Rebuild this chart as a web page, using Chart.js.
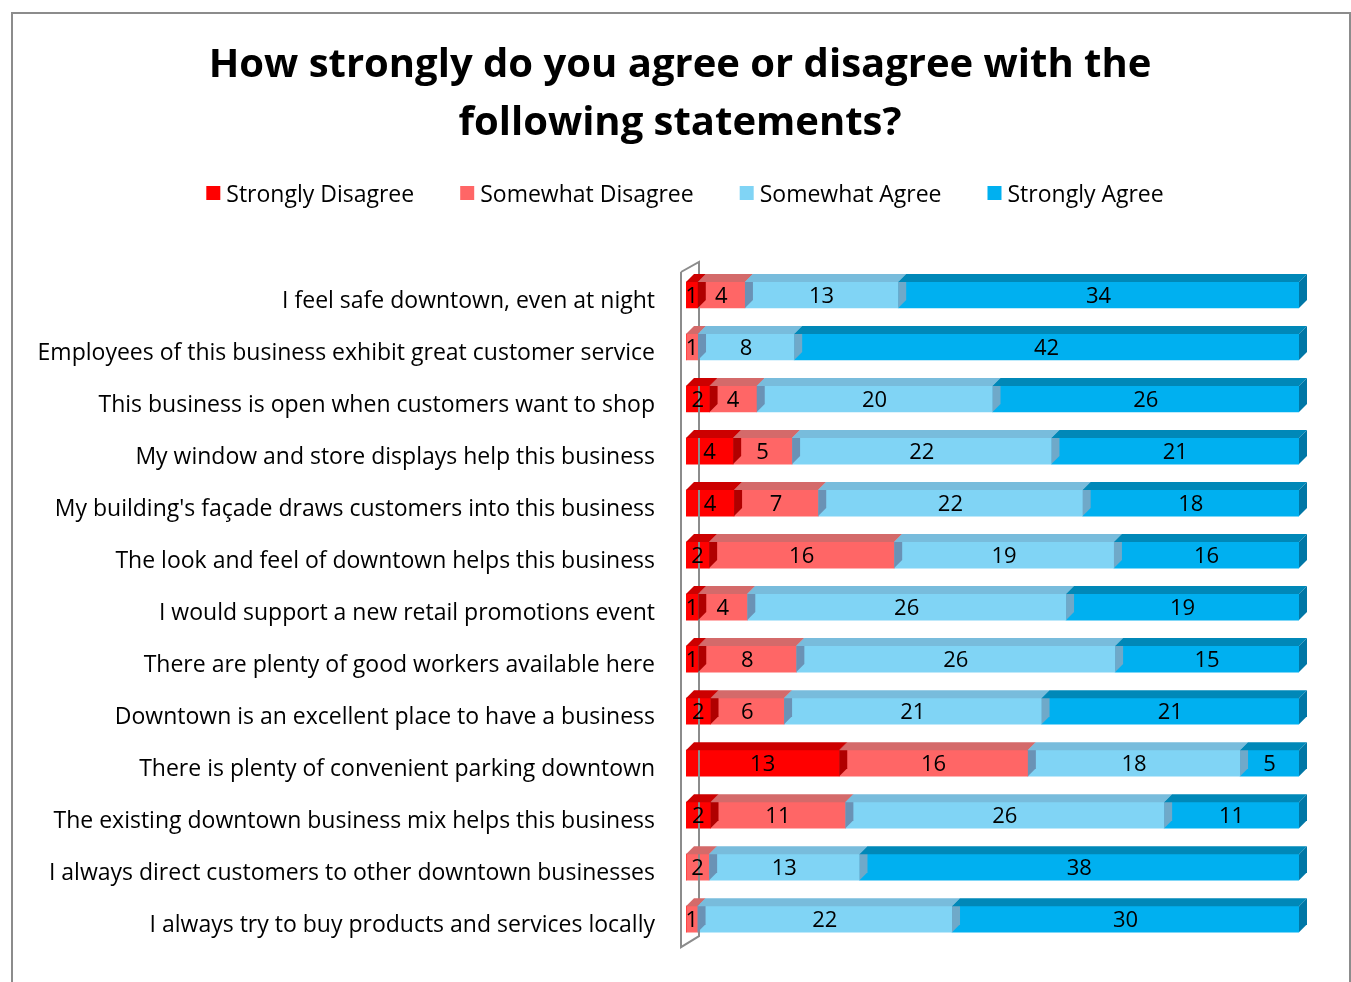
<!DOCTYPE html>
<html>
<head>
<meta charset="utf-8">
<script src="https://cdn.jsdelivr.net/npm/chart.js@4"></script>
<style>
  html, body { margin: 0; padding: 0; background: #fff; }
  #frame { position: absolute; left: 11px; top: 12px; width: 1336px; height: 1000px; border: 2px solid #8c8c8c; }
  #wrap { position: absolute; left: 0; top: 0; width: 1351px; height: 982px; }
</style>
</head>
<body>
<div id="frame"></div>
<div id="wrap"><canvas id="chart"></canvas></div>
<script>
const titleLines = ["How strongly do you agree or disagree with the", "following statements?"];

const statements = [
  "I feel safe downtown, even at night",
  "Employees of this business exhibit great customer service",
  "This business is open when customers want to shop",
  "My window and store displays help this business",
  "My building's façade draws customers into this business",
  "The look and feel of downtown helps this business",
  "I would support a new retail promotions event",
  "There are plenty of good workers available here",
  "Downtown is an excellent place to have a business",
  "There is plenty of convenient parking downtown",
  "The existing downtown business mix helps this business",
  "I always direct customers to other downtown businesses",
  "I always try to buy products and services locally"
];

const stronglyDisagree = [1, 0, 2, 4, 4, 2, 1, 1, 2, 13, 2, 0, 0];
const somewhatDisagree = [4, 1, 4, 5, 7, 16, 4, 8, 6, 16, 11, 2, 1];
const somewhatAgree    = [13, 8, 20, 22, 22, 19, 26, 26, 21, 18, 26, 13, 22];
const stronglyAgree    = [34, 42, 26, 21, 18, 16, 19, 15, 21, 5, 11, 38, 30];

const seriesNames = ["Strongly Disagree", "Somewhat Disagree", "Somewhat Agree", "Strongly Agree"];
const FONT = "'Open Sans', sans-serif";

// front / top / side colours for each series
const frontColors = ["#ff0000", "#ff6666", "#80d4f5", "#00b0f0"];
const topColors   = ["#cc0000", "#d46a6a", "#78bcdc", "#0088b8"];
const sideColors  = ["#b00000", "#6a92b5", "#6fa9c9", "#0077a6"];

const counts = [stronglyDisagree, somewhatDisagree, somewhatAgree, stronglyAgree];
const totals = statements.map((_, i) => counts.reduce((s, arr) => s + arr[i], 0));

const datasets = counts.map((arr, k) => ({
  label: seriesNames[k],
  data: arr.map((v, i) => v / totals[i] * 100),
  raw: arr,
  backgroundColor: frontColors[k],
  borderWidth: 0,
  barThickness: 26
}));

const DEPTH = 8;

// 3d faces, value labels, title and legend
const bars3d = {
  id: "bars3d",
  afterDatasetsDraw(chart) {
    const ctx = chart.ctx;
    const area = chart.chartArea;
    ctx.save();
    // left wall
    ctx.strokeStyle = "#8c8c8c";
    ctx.lineWidth = 2;
    ctx.beginPath();
    ctx.moveTo(area.left - 5, area.top + 3);
    ctx.lineTo(area.left - 5, area.bottom + 2);
    ctx.lineTo(area.left + 13, area.bottom - 9);
    ctx.lineTo(area.left + 13, area.top - 7);
    ctx.lineTo(area.left - 5, area.top + 3);
    ctx.stroke();

    chart.data.datasets.forEach((ds, k) => {
      const meta = chart.getDatasetMeta(k);
      meta.data.forEach((bar, i) => {
        if (!ds.raw[i]) return;
        const x0 = bar.base, x1 = bar.x;
        const y0 = bar.y - bar.height / 2, y1 = bar.y + bar.height / 2;
        ctx.fillStyle = topColors[k];
        ctx.beginPath();
        ctx.moveTo(x0, y0);
        ctx.lineTo(x0 + DEPTH, y0 - DEPTH);
        ctx.lineTo(x1 + DEPTH, y0 - DEPTH);
        ctx.lineTo(x1, y0);
        ctx.closePath();
        ctx.fill();
        ctx.fillStyle = sideColors[k];
        ctx.beginPath();
        ctx.moveTo(x1, y0);
        ctx.lineTo(x1 + DEPTH, y0 - DEPTH);
        ctx.lineTo(x1 + DEPTH, y1 - DEPTH);
        ctx.lineTo(x1, y1);
        ctx.closePath();
        ctx.fill();
      });
    });

    // value labels
    ctx.fillStyle = "#000";
    ctx.font = "22px " + FONT;
    ctx.textAlign = "center";
    ctx.textBaseline = "middle";
    chart.data.datasets.forEach((ds, k) => {
      chart.getDatasetMeta(k).data.forEach((bar, i) => {
        if (!ds.raw[i]) return;
        ctx.fillText(String(ds.raw[i]), (bar.base + bar.x) / 2, bar.y + 2);
      });
    });

    // title
    ctx.font = "bold 40px " + FONT;
    titleLines.forEach((t, i) => ctx.fillText(t, 680, 66 + i * 58));

    // legend
    ctx.font = "23px " + FONT;
    ctx.textAlign = "left";
    const gap = 46, box = 14, legY = 193;
    const widths = seriesNames.map(n => ctx.measureText(n).width);
    const total = widths.reduce((s, w) => s + w + box + 6, 0) + gap * (seriesNames.length - 1);
    let x = 685 - total / 2;
    seriesNames.forEach((n, k) => {
      ctx.fillStyle = frontColors[k];
      ctx.fillRect(x, legY - 7, box, box);
      ctx.fillStyle = "#000";
      ctx.fillText(n, x + box + 6, legY + 2);
      x += box + 6 + widths[k] + gap;
    });
    ctx.restore();
  }
};

new Chart(document.getElementById("chart"), {
  type: "bar",
  data: { labels: statements, datasets },
  plugins: [bars3d],
  options: {
    indexAxis: "y",
    responsive: true,
    maintainAspectRatio: false,
    animation: false,
    layout: { padding: { left: 0, right: 52, top: 0, bottom: 36 } },
    plugins: {
      legend: { display: false },
      tooltip: { enabled: false }
    },
    scales: {
      x: {
        stacked: true,
        position: "top",
        min: 0,
        max: 100,
        grid: { display: false },
        border: { display: false },
        ticks: { display: false },
        // room for title and legend above the bars
        afterFit(scale) { scale.height = 269; }
      },
      y: {
        stacked: true,
        grid: { display: false },
        border: { display: false },
        ticks: { color: "#000", font: { family: FONT, size: 23 }, padding: 23, labelOffset: 6 },
        afterFit(scale) { scale.width = 686; }
      }
    }
  }
});
</script>
</body>
</html>
